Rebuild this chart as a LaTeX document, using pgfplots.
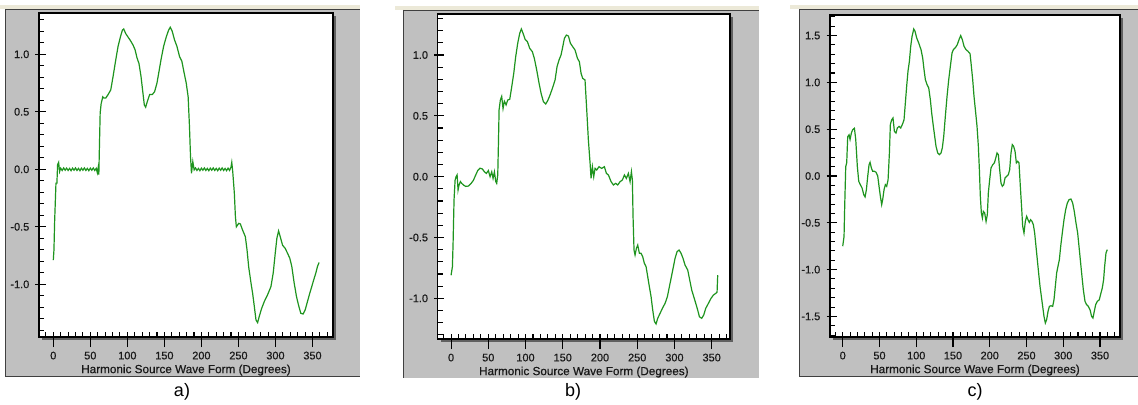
\documentclass[border=0pt]{standalone}
\usepackage{fontspec}
\setmainfont{Liberation Sans}
\newfontfamily\tickfont[FakeBold=0.6]{Liberation Sans}
\usepackage{pgfplots}
\usepackage{pgfplotstable}
\pgfplotsset{compat=1.18}
\definecolor{panelgrey}{RGB}{192,192,192}
\definecolor{beigeline}{RGB}{236,233,216}
\definecolor{shadowgrey}{RGB}{96,96,96}
\definecolor{darkline}{RGB}{64,64,64}
\definecolor{wave}{RGB}{30,148,30}
\definecolor{ticktext}{RGB}{25,25,25}

\pgfplotstableread{
x y
0 -0.79
0.9 -0.70
1.8 -0.455
3.6 -0.12
4.9 -0.12
5.8 0.04
7.2 0.06
8.5 -0.02
10 0.01
12 -0.01
14 0.012
16 -0.008
18 0.01
20 -0.01
22 0.008
24 -0.012
26 0.01
28 -0.008
30 0.012
32 -0.01
34 0.008
36 -0.012
38 0.01
40 -0.008
42 0.012
44 -0.01
46 0.008
48 -0.012
50 0.01
52 -0.008
54 0.012
56 -0.01
58 0.008
59.5 -0.03
60.5 0.01
61.5 -0.045
62.4 0.23
63.3 0.49
64.6 0.57
66.8 0.63
68.2 0.62
70.9 0.62
74 0.65
77.6 0.69
80.8 0.81
84.3 0.95
87.5 1.07
90.6 1.15
93.3 1.21
95.1 1.22
97.8 1.18
100.9 1.15
104.1 1.12
107.7 1.08
110.4 1.04
113 0.97
115.7 0.92
118.4 0.81
121.1 0.66
122.9 0.56
124.7 0.54
127 0.59
130.1 0.65
133.7 0.65
136.8 0.675
140 0.75
142.7 0.85
145.8 0.965
149 1.07
152.5 1.15
155.7 1.21
157.9 1.235
160.6 1.2
163.7 1.125
166.9 1.07
170.5 0.98
173.6 0.94
176.3 0.85
179.5 0.75
182.1 0.63
183.9 0.37
185.3 0.11
186.6 -0.035
188.4 0.067
190.2 -0.005
192 0.012
194 -0.01
196 0.008
198 -0.012
200 0.01
202 -0.008
204 0.012
206 -0.01
208 0.008
210 -0.012
212 0.01
214 -0.008
216 0.012
218 -0.01
220 0.008
222 -0.012
224 0.01
226 -0.008
228 0.012
230 -0.01
232 0.008
234 -0.012
236 0.01
238 -0.01
240 0.02
241 0.06
242.3 -0.02
244.5 -0.21
245.9 -0.41
247.2 -0.50
250.4 -0.47
252.6 -0.475
255.7 -0.53
259.3 -0.585
261.6 -0.70
263.8 -0.846
267 -0.99
269.2 -1.08
271.4 -1.19
273.7 -1.31
275.9 -1.333
278.1 -1.28
281.3 -1.21
284.9 -1.15
289.4 -1.09
293.9 -1.02
297 -0.90
299.7 -0.73
301.9 -0.60
304.2 -0.536
306.4 -0.585
309.6 -0.66
313.1 -0.687
316.3 -0.73
319.4 -0.774
322.1 -0.846
325.3 -0.99
328.4 -1.107
331.1 -1.18
334.2 -1.252
337.4 -1.258
340.1 -1.223
343.2 -1.15
346.3 -1.078
349 -1.02
351.7 -0.96
354.4 -0.904
356.7 -0.846
358.9 -0.81
}\dataA

\pgfplotstableread{
x y
0 -0.81
1.8 -0.74
2.7 -0.55
4.0 -0.19
5.4 -0.03
6.7 0.0
8.1 0.015
9.4 -0.11
10.7 -0.07
12.5 -0.04
14.3 -0.055
17.0 -0.07
19.7 -0.08
23.3 -0.077
26.9 -0.055
30.0 -0.03
33.1 0.014
35.8 0.05
38.9 0.07
42.1 0.063
44.8 0.04
47.4 0.027
50.1 0.05
52.4 0.0
54.6 0.04
56.4 -0.014
58.2 0.04
60.0 -0.04
61.3 -0.055
62.7 0.014
63.6 0.27
64.5 0.55
66.2 0.63
68.0 0.66
69.8 0.56
71.6 0.62
73.9 0.59
76.1 0.63
78.8 0.636
81.5 0.74
84.2 0.85
86.8 0.986
89.5 1.096
92.2 1.178
94.4 1.214
96.7 1.178
99.4 1.129
102.5 1.11
105.6 1.055
109.2 1.027
111.9 0.97
115.0 0.877
118.2 0.767
120.9 0.685
124.0 0.616
127.1 0.597
129.8 0.625
132.9 0.671
136.1 0.726
139.7 0.795
142.3 0.904
145.0 0.959
147.7 1.0
150.0 1.068
152.2 1.137
154.9 1.164
157.6 1.156
160.3 1.096
163.4 1.068
166.5 1.041
169.7 0.973
172.3 0.945
174.6 0.849
176.8 0.808
179.9 0.795
182.2 0.548
184.4 0.301
186.7 0.11
188.0 -0.014
189.8 0.082
191.6 0.0
193.4 0.068
195.6 0.055
198.7 0.082
202.3 0.068
205.9 0.082
208.6 0.027
211.3 0.014
214.9 -0.041
218.0 -0.068
221.1 -0.055
223.8 -0.068
227.0 -0.041
230.1 -0.027
232.8 0.014
235.4 -0.014
238.1 0.027
240.4 -0.041
242.2 0.041
243.5 -0.027
244.4 -0.329
245.7 -0.603
247.1 -0.644
248.9 -0.589
250.7 -0.562
252.9 -0.63
255.1 -0.63
257.4 -0.658
259.6 -0.712
261.9 -0.74
264.1 -0.822
266.3 -0.904
268.6 -0.986
270.8 -1.096
273.1 -1.19
275.3 -1.21
277.5 -1.164
280.7 -1.123
283.8 -1.082
287.4 -1.041
290.5 -0.986
293.2 -0.904
295.9 -0.822
298.6 -0.74
300.8 -0.671
303.5 -0.616
306.2 -0.603
308.9 -0.63
311.5 -0.671
314.2 -0.726
317.8 -0.767
320.5 -0.849
323.2 -0.932
325.9 -0.986
328.6 -1.041
331.2 -1.096
333.5 -1.151
336.6 -1.164
339.3 -1.137
342.0 -1.082
345.6 -1.041
349.1 -1.0
352.3 -0.973
355.4 -0.959
357.2 -0.95
358.1 -0.81
}\dataB

\pgfplotstableread{
x y
0 -0.75
1.8 -0.645
2.7 -0.32
4.1 0.10
5.4 0.14
6.8 0.42
8.6 0.44
10.0 0.39
11.8 0.46
13.6 0.495
15.9 0.51
17.7 0.39
19.9 0.10
21.8 -0.057
24.0 -0.093
26.3 -0.128
28.6 -0.2
30.4 -0.224
32.2 -0.146
34.0 -0.004
35.8 0.12
37.2 0.146
39.0 0.085
40.8 0.05
43.1 0.05
45.3 0.04
47.6 0
49.4 -0.11
51.2 -0.217
53.0 -0.306
54.4 -0.25
56.2 -0.146
58.0 -0.093
59.8 -0.11
61.7 -0.04
63.5 0.246
64.8 0.55
66.6 0.60
68.4 0.62
70.3 0.477
72.5 0.46
74.3 0.513
76.6 0.53
78.9 0.513
81.1 0.55
83.4 0.60
85.2 0.78
87.0 0.96
88.8 1.12
90.7 1.225
92.5 1.386
94.3 1.49
96.6 1.57
98.4 1.546
100.6 1.475
103.4 1.42
106.5 1.35
108.8 1.26
110.6 1.136
112.4 1.03
114.7 0.976
117.0 0.94
119.2 0.816
121.0 0.673
123.3 0.53
125.1 0.424
126.9 0.317
129.2 0.246
131.5 0.228
133.7 0.246
135.5 0.30
137.4 0.424
139.6 0.638
141.9 0.85
144.2 1.03
146.4 1.17
148.7 1.315
150.5 1.35
153.2 1.37
155.9 1.404
158.2 1.457
160.5 1.50
162.7 1.457
165.0 1.386
167.7 1.35
170.4 1.332
173.2 1.307
175.0 1.172
176.8 1.03
178.6 0.85
180.9 0.673
182.7 0.53
184.5 0.317
185.9 0.068
187.2 -0.217
188.6 -0.395
190.0 -0.449
191.3 -0.378
193.1 -0.395
195.0 -0.485
196.7 -0.413
198.1 -0.18
199.9 -0.04
201.7 0.085
204.0 0.12
206.3 0.14
208.1 0.19
209.9 0.246
211.7 0.228
213.5 0.068
215.3 -0.075
217.1 -0.11
219.0 -0.093
220.8 -0.02
223.0 -0.004
225.3 0.014
227.1 0.068
228.9 0.246
230.7 0.335
232.5 0.317
234.4 0.264
236.2 0.14
238.0 0.157
239.8 0.14
241.6 -0.11
243.4 -0.342
244.8 -0.538
246.6 -0.609
248.4 -0.485
250.2 -0.431
252.0 -0.467
253.8 -0.495
255.6 -0.467
257.5 -0.485
259.3 -0.52
261.1 -0.609
262.9 -0.752
264.7 -0.894
266.5 -1.037
268.4 -1.18
270.2 -1.286
272.0 -1.393
273.8 -1.50
275.6 -1.571
277.4 -1.535
279.3 -1.446
281.1 -1.393
283.3 -1.386
285.6 -1.393
287.4 -1.322
289.2 -1.18
291.0 -1.037
292.8 -0.965
294.7 -0.894
296.5 -0.752
298.7 -0.609
301.0 -0.467
303.3 -0.36
305.5 -0.289
307.8 -0.253
310.5 -0.246
312.8 -0.289
315.0 -0.378
317.3 -0.502
319.6 -0.609
321.4 -0.752
323.2 -0.894
325.0 -1.037
327.3 -1.215
329.6 -1.34
331.8 -1.375
334.1 -1.393
336.4 -1.429
338.6 -1.50
340.4 -1.518
342.2 -1.446
344.1 -1.375
346.3 -1.34
349.0 -1.322
351.3 -1.25
353.1 -1.197
354.9 -1.108
356.3 -0.965
358.1 -0.823
359.9 -0.787
}\dataC

\pgfplotsset{
  panel/.style={
    scale only axis,
    anchor=south west,
    axis background/.style={fill=white},
    axis line style={black, line width=0.8pt},
    xtick pos=left, ytick pos=left,
    tick align=outside,
    major tick length=7.5pt,
    minor tick length=3.75pt,
    tick style={black, line width=0.8pt},
    minor x tick style={yshift=3.75pt},
    minor y tick style={xshift=3.75pt},
    major y tick style={xshift=4.875pt},
    xtick={0,50,...,350},
    xticklabels={0,50,100,150,200,250,300,350},
    minor xtick={-10,0,...,370},
    tick label style={font=\tickfont\fontsize{8.2}{9}\selectfont, text=ticktext},
    yticklabel style={xshift=3.75pt},
    xlabel={Harmonic Source Wave Form (Degrees)},
    xlabel style={font=\tickfont\fontsize{8.8}{10}\selectfont, text=ticktext, yshift=3pt},
  },
  wavestyle/.style={wave, line width=0.9pt},
}

\begin{document}
\begin{tikzpicture}
\useasboundingbox (0,0) rectangle (853.5pt,303pt);
\begin{scope}[x=0.75pt, y=-0.75pt, yshift=303pt]
  % panel a frame
  \fill[beigeline] (0,5) rectangle (360,9);
  \fill[panelgrey] (5,9) rectangle (360,377);
  \draw[darkline, line width=0.75pt] (5,9.5) -- (360,9.5);
  \draw[darkline, line width=0.75pt] (5.5,9) -- (5.5,377);
  \draw[darkline, line width=0.75pt] (5,376.5) -- (360,376.5);
  \fill[shadowgrey] (42,16) rectangle (336,340);
  % panel b frame
  \fill[beigeline] (395,6) rectangle (759,10);
  \fill[panelgrey] (403,10) rectangle (759,378);
  \draw[darkline, line width=0.75pt] (403,10.5) -- (759,10.5);
  \draw[darkline, line width=0.75pt] (403.5,10) -- (403.5,378);
  \fill[shadowgrey] (440.7,17) rectangle (733,342);
  % panel c frame
  \fill[beigeline] (790,5) rectangle (1138,9);
  \fill[panelgrey] (799,9) rectangle (1138,377);
  \draw[darkline, line width=0.75pt] (799,9.5) -- (1138,9.5);
  \draw[darkline, line width=0.75pt] (799.5,9) -- (799.5,377);
  \draw[darkline, line width=0.75pt] (799,376.5) -- (1138,376.5);
  \fill[shadowgrey] (833,18) rectangle (1123,340);
\end{scope}

\begin{axis}[panel,
  at={(29.25pt,50.25pt)}, width=220.5pt, height=243pt,
  xmin=-19.3, xmax=377.7, ymin=-1.458, ymax=1.359,
  ytick={-1,-0.5,0,0.5,1},
  yticklabels={-1.0,-0.5,0.0,0.5,1.0},
  minor ytick={-1.4,-1.3,...,1.35}]
\addplot[wavestyle] table[x=x,y=y] {\dataA};
\end{axis}

\begin{axis}[panel,
  at={(328.3pt,48.75pt)}, width=219.2pt, height=243.75pt,
  xmin=-17.9, xmax=374.6, ymin=-1.334, ymax=1.337,
  ytick={-1,-0.5,0,0.5,1},
  yticklabels={-1.0,-0.5,0.0,0.5,1.0},
  minor ytick={-1.3,-1.2,...,1.35}]
\addplot[wavestyle] table[x=x,y=y] {\dataB};
\end{axis}

\begin{axis}[panel,
  at={(622.5pt,50.25pt)}, width=217.5pt, height=241.5pt,
  xmin=-17.3, xmax=377.2, ymin=-1.72, ymax=1.72,
  ytick={-1.5,-1,-0.5,0,0.5,1,1.5},
  yticklabels={-1.5,-1.0,-0.5,0.0,0.5,1.0,1.5},
  minor ytick={-1.7,-1.6,...,1.75}]
\addplot[wavestyle] table[x=x,y=y] {\dataC};
\end{axis}

\begin{scope}[x=0.75pt, y=-0.75pt, yshift=303pt]
  \node[font=\fontsize{13.5}{16}\selectfont] at (182,392) {a)};
  \node[font=\fontsize{13.5}{16}\selectfont] at (573,392) {b)};
  \node[font=\fontsize{13.5}{16}\selectfont] at (975,392) {c)};
\end{scope}
\end{tikzpicture}
\end{document}
